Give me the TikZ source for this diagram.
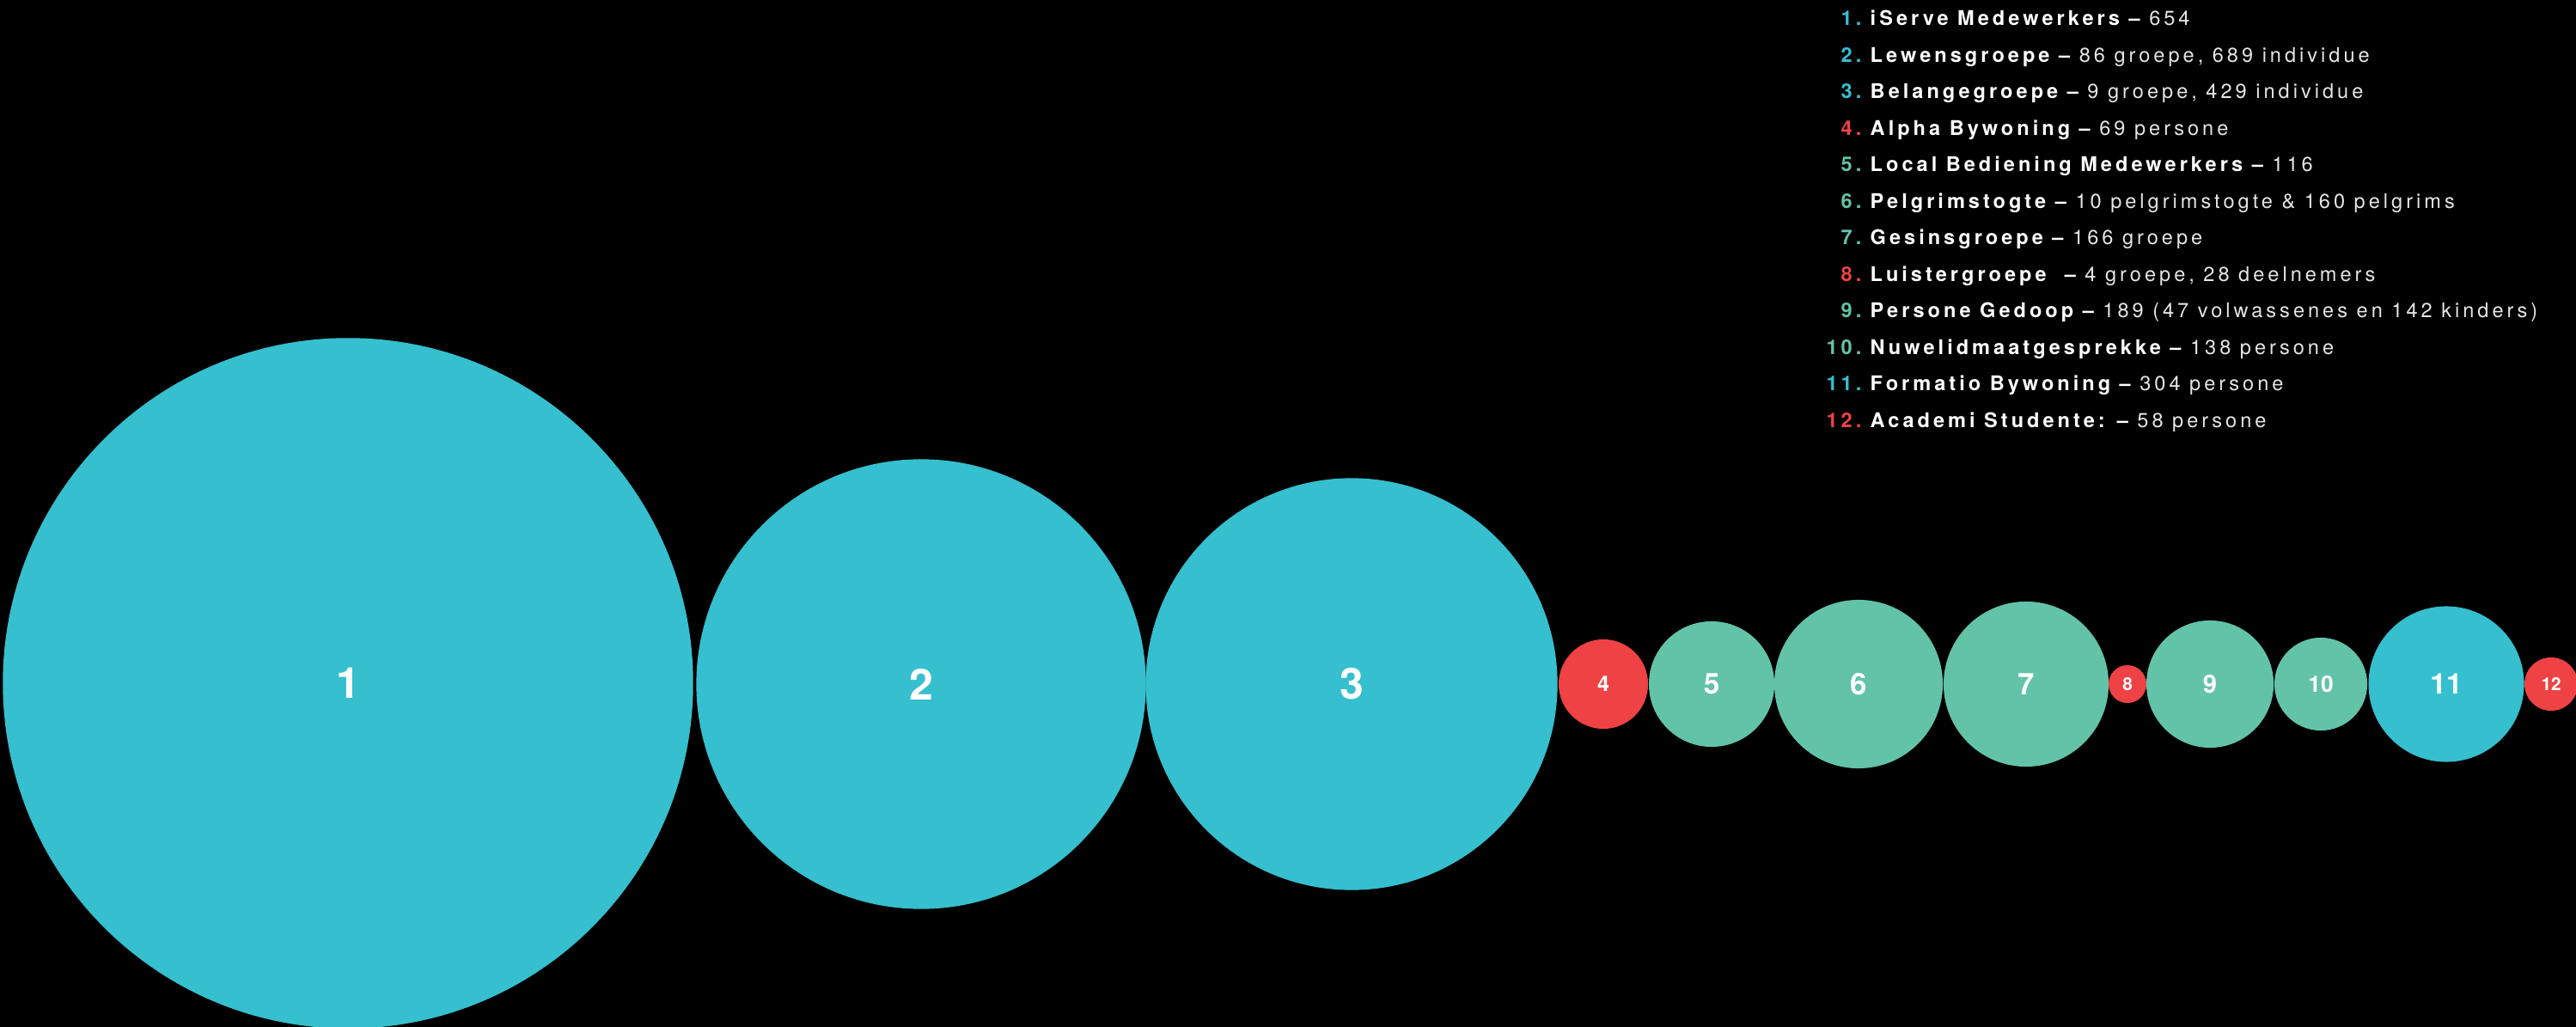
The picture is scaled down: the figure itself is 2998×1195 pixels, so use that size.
\documentclass[tikz,border=0pt]{standalone}
\usepackage{fontspec}
\setmainfont{TeX Gyre Heros}
\newfontfamily\legfont{TeX Gyre Heros}[LetterSpace=17]
\definecolor{cy}{HTML}{35BFCF}
\definecolor{gr}{HTML}{62C3A8}
\definecolor{rd}{HTML}{EF4244}
\definecolor{lt}{HTML}{E6E6E6}
\tikzset{
  bub/.style n args={3}{circle, fill=#1, minimum size=#2, inner sep=0pt, text=white,
    font=\fontsize{#3}{#3}\selectfont\bfseries},
  legnum/.style={anchor=base east, inner sep=0pt, font=\fontsize{6.7pt}{8pt}\selectfont\legfont\bfseries},
  legtxt/.style={anchor=base west, inner sep=0pt, text=white, font=\fontsize{6.7pt}{8pt}\selectfont\legfont}
}
\newcommand{\lite}[1]{{\mdseries\color{lt}#1}}
\begin{document}
\begin{tikzpicture}[x=0.01cm,y=-0.01cm]
\fill[black] (0,0) rectangle (2998,1195);
\useasboundingbox (0,0) rectangle (2998,1195);
% bubbles
\node[bub={cy}{8.03cm}{14.2pt}] (c1) at (405,795) {1};
\node[bub={cy}{5.23cm}{14.2pt}] (c2) at (1072,796) {2};
\node[bub={cy}{4.79cm}{14.2pt}] (c3) at (1573,796) {3};
\node[bub={rd}{1.04cm}{7.1pt}] (c4) at (1866,796) {4};
\node[bub={gr}{1.46cm}{9.5pt}] (c5) at (1992,796) {5};
\node[bub={gr}{1.96cm}{9.9pt}] (c6) at (2163,796) {6};
\node[bub={gr}{1.92cm}{9.9pt}] (c7) at (2358,796) {7};
\node[bub={rd}{0.44cm}{5.9pt}] (c8) at (2476,796) {8};
\node[bub={gr}{1.48cm}{8.3pt}] (c9) at (2572,796) {9};
\node[bub={gr}{1.08cm}{7.5pt}] (c10) at (2701,796) {10};
\node[bub={cy}{1.81cm}{9.5pt}] (c11) at (2847,796) {11};
\node[bub={rd}{0.62cm}{5.9pt}] (c12) at (2969,796) {12};
% legend
\node[legnum, text=cy] (n1) at (2167,30) {1.};
\node[legtxt] (l1) at (2176,30) {\bfseries iServe Medewerkers – \lite{654}};
\node[legnum, text=cy] (n2) at (2167,72.5) {2.};
\node[legtxt] (l2) at (2176,72.5) {\bfseries Lewensgroepe – \lite{86 groepe, 689 individue}};
\node[legnum, text=cy] (n3) at (2167,115) {3.};
\node[legtxt] (l3) at (2176,115) {\bfseries Belangegroepe – \lite{9 groepe, 429 individue}};
\node[legnum, text=rd] (n4) at (2167,157.5) {4.};
\node[legtxt] (l4) at (2176,157.5) {\bfseries Alpha Bywoning – \lite{69 persone}};
\node[legnum, text=gr] (n5) at (2167,200) {5.};
\node[legtxt] (l5) at (2176,200) {\bfseries Local Bediening Medewerkers – \lite{116}};
\node[legnum, text=gr] (n6) at (2167,242.5) {6.};
\node[legtxt] (l6) at (2176,242.5) {\bfseries Pelgrimstogte – \lite{10 pelgrimstogte \& 160 pelgrims}};
\node[legnum, text=gr] (n7) at (2167,285) {7.};
\node[legtxt] (l7) at (2176,285) {\bfseries Gesinsgroepe – \lite{166 groepe}};
\node[legnum, text=rd] (n8) at (2167,327.5) {8.};
\node[legtxt] (l8) at (2176,327.5) {\bfseries Luistergroepe\ \ – \lite{4 groepe, 28 deelnemers}};
\node[legnum, text=gr] (n9) at (2167,370) {9.};
\node[legtxt] (l9) at (2176,370) {\bfseries Persone Gedoop – \lite{189 (47 volwassenes en 142 kinders)}};
\node[legnum, text=gr] (n10) at (2167,412.5) {10.};
\node[legtxt] (l10) at (2176,412.5) {\bfseries Nuwelidmaatgesprekke – \lite{138 persone}};
\node[legnum, text=cy] (n11) at (2167,455) {11.};
\node[legtxt] (l11) at (2176,455) {\bfseries Formatio Bywoning – \lite{304 persone}};
\node[legnum, text=rd] (n12) at (2167,497.5) {12.};
\node[legtxt] (l12) at (2176,497.5) {\bfseries Academi Studente: – \lite{58 persone}};
\end{tikzpicture}
\end{document}
